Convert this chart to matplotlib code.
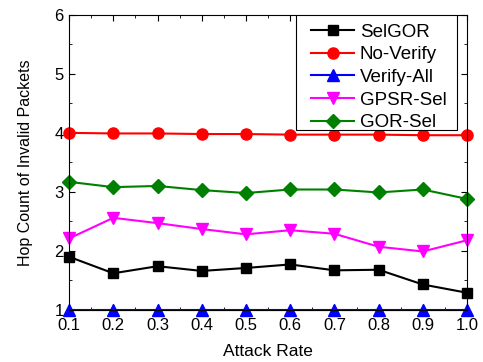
import matplotlib.pyplot as plt
from matplotlib.patches import Rectangle
from matplotlib.ticker import MultipleLocator

plt.rcParams['font.family'] = ['Liberation Sans', 'DejaVu Sans']

attack_rate = [0.1, 0.2, 0.3, 0.4, 0.5, 0.6, 0.7, 0.8, 0.9, 1.0]
selgor = [1.90, 1.62, 1.74, 1.66, 1.71, 1.77, 1.67, 1.68, 1.43, 1.29]
no_verify = [4.00, 3.99, 3.99, 3.98, 3.98, 3.97, 3.97, 3.97, 3.96, 3.96]
verify_all = [1.0, 1.0, 1.0, 1.0, 1.0, 1.0, 1.0, 1.0, 1.0, 1.0]
gpsr_sel = [2.21, 2.56, 2.47, 2.37, 2.28, 2.35, 2.29, 2.07, 1.99, 2.18]
gor_sel = [3.17, 3.08, 3.10, 3.03, 2.98, 3.04, 3.04, 2.99, 3.04, 2.88]

fig = plt.figure(figsize=(4.83, 3.62), dpi=100)
ax = fig.add_axes([0.143, 0.144, 0.824, 0.815])

ax.plot(attack_rate, selgor, color='black', marker='s', ms=7, lw=1.5, label='SelGOR', clip_on=False)
ax.plot(attack_rate, no_verify, color='red', marker='o', ms=8, lw=1.5, label='No-Verify', clip_on=False)
ax.plot(attack_rate, verify_all, color='blue', marker='^', ms=8, lw=1.5, label='Verify-All', clip_on=False)
ax.plot(attack_rate, gpsr_sel, color='magenta', marker='v', ms=8, lw=1.5, label='GPSR-Sel', clip_on=False)
ax.plot(attack_rate, gor_sel, color='green', marker='D', ms=7, lw=1.5, label='GOR-Sel', clip_on=False)

ax.set_xlim(0.1, 1.0)
ax.set_ylim(1, 6)
ax.set_xticks(attack_rate)
ax.set_xticklabels(['%.1f' % v for v in attack_rate])
ax.xaxis.set_minor_locator(MultipleLocator(0.05))
ax.yaxis.set_major_locator(MultipleLocator(1))
ax.yaxis.set_minor_locator(MultipleLocator(0.5))
ax.tick_params(which='both', direction='in', top=True, right=True, labelsize=12)
ax.tick_params(which='major', length=4)
ax.tick_params(which='minor', length=2.5)
ax.tick_params(axis='x', pad=6)
ax.tick_params(axis='y', pad=4)

ax.set_xlabel('Attack Rate', fontsize=12.5, labelpad=8)
ax.set_ylabel('Hop Count of Invalid Packets', fontsize=11.5, labelpad=15)

# legend box drawn by hand (wider side padding than matplotlib allows)
ax.add_patch(Rectangle((0.570, 0.610), 0.405, 0.390, transform=ax.transAxes,
                       facecolor='white', edgecolor='black', lw=0.8, zorder=4))
leg = ax.legend(loc='upper left', bbox_to_anchor=(0.608, 0.970), fontsize=13.5,
                frameon=False, handlelength=2.3, handletextpad=0.3,
                borderaxespad=0, borderpad=0, labelspacing=0.29)
leg.set_zorder(5)

fig.savefig('out.png', dpi=100)
plt.close()
